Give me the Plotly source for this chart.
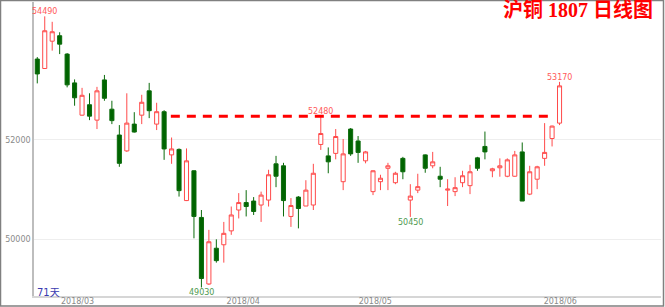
import plotly.graph_objects as go

# ---- data (index = trading day, 71 days) ----
opens = [53630, 53440, 53990, 54100, 53730, 53150, 52500, 52710, 52400, 53210,
         52620, 52100, 51780, 52320, 52500, 52990, 52320, 52570, 51700, 51810,
         50780, 51380, 50440, 49100, 49820, 49890, 50170, 50590, 50740, 50770,
         50690, 50790, 51520, 51480, 50460, 50850, 50670, 50690, 51910, 51680,
         51730, 51160, 52220, 51980, 51580, 50960, 51160, 51430, 51140, 51630,
         50790, 50990, 51700, 51480, 51270, 50990, 50960, 51140, 51080, 51640,
         51870, 51380, 51440, 51270, 51270, 51760, 50910, 51210, 51630, 52030,
         52340]
highs = [53670, 54490, 54380, 54170, 53750, 53220, 53050, 52940, 53070, 53310,
         52790, 52300, 52940, 52560, 52910, 53150, 52750, 52600, 52050, 51830,
         51830, 51390, 50590, 50190, 50000, 50350, 50660, 50930, 50990, 50850,
         50960, 51400, 51680, 51540, 50830, 50870, 51190, 51520, 52480, 51850,
         52220, 52020, 52240, 52080, 51780, 51390, 51300, 51540, 51360, 51660,
         51110, 51320, 51710, 51760, 51460, 51210, 51250, 51380, 51500, 51660,
         52170, 51440, 51630, 51630, 51780, 51950, 51480, 51480, 52340, 52290,
         53170]
lows = [53140, 53430, 53800, 53730, 53060, 52690, 52490, 52400, 52220, 52790,
        52320, 51460, 51760, 52150, 52320, 52440, 52200, 51600, 51520, 50860,
        50770, 50020, 49030, 49080, 49530, 49530, 50090, 50420, 50460, 50490,
        50350, 50660, 51050, 50460, 50250, 50220, 50670, 50590, 51800, 51330,
        51610, 50990, 51680, 51540, 51530, 50890, 50990, 50990, 51110, 51210,
        50450, 50930, 51340, 51430, 51050, 50670, 50870, 51050, 50910, 51380,
        51610, 51250, 51260, 51250, 51260, 50770, 50890, 51010, 51480, 51870,
        52300]
closes = [53330, 54200, 54180, 53930, 53110, 52850, 52900, 52480, 52990, 52840,
          52390, 51530, 52340, 52160, 52760, 52590, 52570, 51820, 51820, 50980,
          51580, 50460, 49210, 49950, 49570, 50120, 50490, 50740, 50660, 50560,
          50890, 51300, 51270, 50780, 50680, 50620, 50990, 51330, 52130, 51560,
          52070, 51720, 51720, 51750, 51760, 51380, 51230, 51480, 51330, 51360,
          50870, 51060, 51430, 51560, 51210, 51010, 51040, 51280, 51360, 51430,
          51760, 51420, 51480, 51600, 51700, 50770, 51360, 51460, 51750, 52280,
          53090]
days = list(range(len(opens)))

month_ticks = [5.4, 27.6, 45.3, 70.1]
month_labels = ["2018/03", "2018/04", "2018/05", "2018/06"]
y_ticks = [50000, 52000]

high_marks = [1, 38, 70]      # indices labelled with their high
low_marks = [22, 50]          # indices labelled with their low
resist_idx = 38               # resistance line at this day's high
resist_span = [17.9, 68.8]

title_text = "沪铜 1807 日线图"
days_text = "71天"

# ---- figure ----
W, H = 665, 307
ML, MR, MT, MB = 34, 4, 2, 11
pw, ph = W - ML - MR, H - MT - MB

def px_x(p):
    return (p - ML) / pw

def px_y(p):
    return (H - MB - p) / ph

fig = go.Figure(go.Candlestick(
    x=days, open=opens, high=highs, low=lows, close=closes,
    increasing=dict(line=dict(color="#ff4a4a", width=1), fillcolor="#ffffff"),
    decreasing=dict(line=dict(color="#0b6b0b", width=1), fillcolor="#006400"),
    whiskerwidth=0, hoverinfo="skip", showlegend=False,
))

anns = []
for i in high_marks:
    anns.append(dict(x=i, y=highs[i], text=str(highs[i]), showarrow=False,
                     yanchor="bottom", yshift=-2,
                     font=dict(family="DejaVu Sans", size=8, color="#ff5a5a")))
for i in low_marks:
    anns.append(dict(x=i, y=lows[i], text=str(lows[i]), showarrow=False,
                     yanchor="top", yshift=1,
                     font=dict(family="DejaVu Sans", size=8, color="#4f9a4f")))
anns.append(dict(xref="paper", yref="paper", x=px_x(655), y=px_y(10),
                 xanchor="right", yanchor="middle", text="<b>" + title_text + "</b>",
                 showarrow=False,
                 font=dict(family="Liberation Serif, Noto Sans CJK SC", size=20, color="#ff0000")))
anns.append(dict(xref="paper", yref="paper", x=px_x(35), y=px_y(292),
                 xanchor="left", yanchor="middle", text=days_text, showarrow=False,
                 font=dict(family="DejaVu Sans, Noto Sans CJK SC", size=10, color="#3a3ab0")))

shapes = [
    dict(type="line", xref="x", yref="y", x0=resist_span[0], x1=resist_span[1],
         y0=highs[resist_idx], y1=highs[resist_idx],
         line=dict(color="#ff0000", width=3, dash="9px,7px")),
    dict(type="rect", xref="paper", yref="paper",
         x0=px_x(0.5), x1=px_x(663.5), y0=px_y(306), y1=px_y(0.5),
         line=dict(color="#808080", width=1.5), fillcolor="rgba(0,0,0,0)", layer="above"),
]

fig.update_layout(
    width=W, height=H, margin=dict(l=ML, r=MR, t=MT, b=MB, autoexpand=False),
    paper_bgcolor="white", plot_bgcolor="white",
    hovermode=False, showlegend=False, boxgap=0.22,
    annotations=anns, shapes=shapes,
    xaxis=dict(range=[-0.44, 83.6], rangeslider=dict(visible=False), automargin=False,
               tickmode="array", tickvals=month_ticks, ticktext=month_labels,
               ticklabelstandoff=-4,
               showgrid=False, zeroline=False, showline=True, linecolor="#d6d6d6",
               linewidth=2, ticks="", tickfont=dict(family="DejaVu Sans", size=8, color="#8a8a8a")),
    yaxis=dict(range=[48858, 54779], tickmode="array", tickvals=y_ticks, tickformat="d",
               automargin=False,
               showgrid=True, gridcolor="#eeeeee", gridwidth=1, zeroline=False,
               showline=True, linecolor="#bdbdbd", linewidth=1.5, ticks="",
               tickfont=dict(family="DejaVu Sans", size=8, color="#8a8a8a")),
)

fig.write_html("out.html", config={"displayModeBar": False})
